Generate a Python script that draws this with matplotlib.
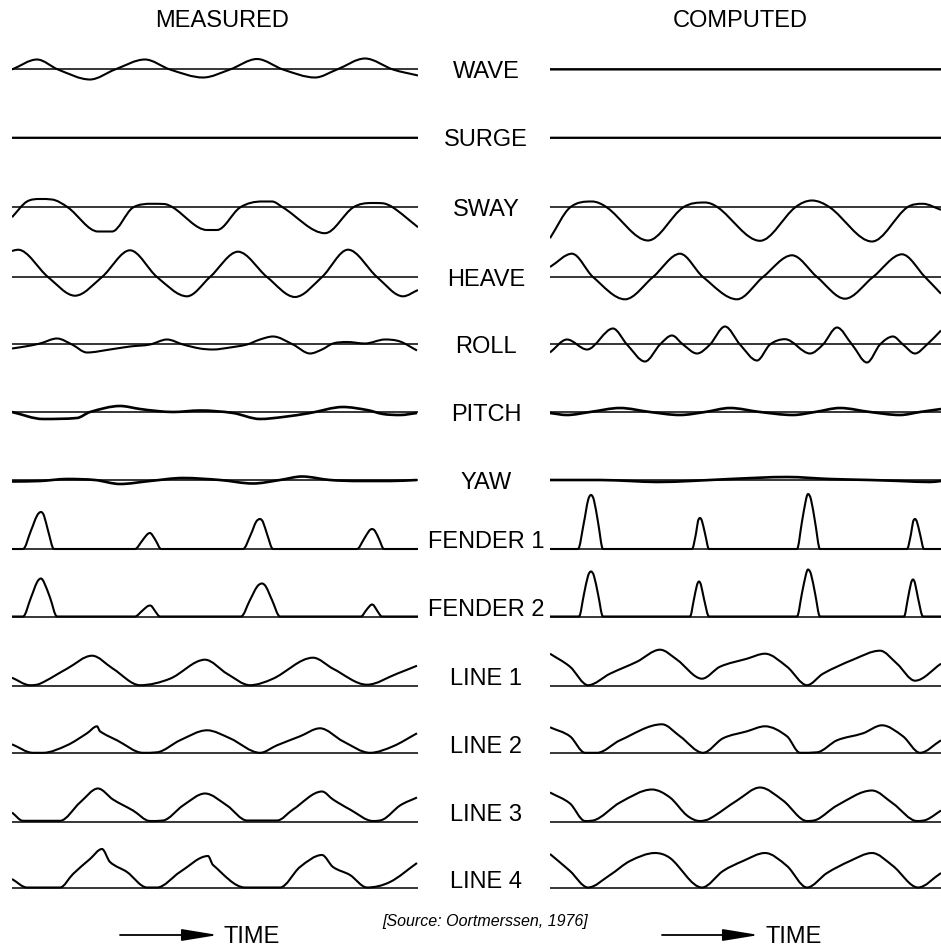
import matplotlib
matplotlib.use("Agg")
import matplotlib.pyplot as plt
from matplotlib.path import Path
from matplotlib.patches import PathPatch, FancyArrowPatch
import numpy as np

plt.rcParams['font.family'] = ['Liberation Sans', 'DejaVu Sans']

# ---- traces: time (record units) and response above the zero line ----
# measured record spans t = 0..406, computed record spans t = 0..391

wave_meas_t = [0, 25, 46, 78, 103, 133, 158, 191, 218, 245, 271, 303, 325, 353, 381, 406]
wave_meas_v = [0, 10, 0, -10, 0, 10, 0, -8, 0, 10.5, 0, -8, 0, 11, 0, -6]
wave_comp_t = [0, 391]
wave_comp_v = [0, 0]

surge_meas_t = [0, 406]
surge_meas_v = [0, 0]
surge_comp_t = [0, 391]
surge_comp_v = [0, 0]

sway_meas_t = [0, 15, 28, 40, 56, 86, 100, 121, 140, 152, 161, 195, 205, 228, 250, 260,
               271, 313, 341, 360, 370, 381, 406]
sway_meas_v = [-9.7, 6, 8.5, 8, 0, -24, -24, 0, 3.7, 3.5, 0, -22.5, -22.5, 0, 6, 6,
               0, -25.7, 0, 4.5, 4.3, 0, -19.7]
sway_comp_t = [0, 20, 42, 57, 98, 133, 155, 168, 210, 245, 262, 280, 322, 357, 373, 391]
sway_comp_v = [-30.7, 0, 6, 0, -33, 0, 5, 0, -33.3, 0, 7, 0, -34, 0, 3.7, -2.3]

heave_meas_t = [0, 6, 36, 63, 90, 118, 145, 175, 198, 226, 255, 283, 310, 336, 365, 391, 406]
heave_meas_v = [26, 27.3, 0, -18.7, 0, 26.7, 0, -19.3, 0, 25.3, 0, -20, 0, 27.3, 0, -19.3, -13]
heave_comp_t = [0, 22, 43, 75, 103, 130, 153, 187, 213, 242, 267, 295, 323, 352, 375, 391]
heave_comp_v = [10, 23.3, 0, -22.3, 0, 23.3, 0, -22.3, 0, 21.7, 0, -21.7, 0, 22.7, 0, -16.7]

roll_meas_t = [0, 13, 28, 45, 60, 75, 98, 118, 138, 155, 171, 188, 201, 218, 235, 248,
               261, 281, 298, 310, 321, 335, 353, 373, 388, 405]
roll_meas_v = [-4, -2, 1, 6, 0, -8, -5, -2, 0, 5, 0, -4, -5, -3, 0, 5,
               8, 0, -9, -5, 1, 2.5, 1, 5, 3, -6]
roll_comp_t = [0, 17, 37, 63, 77, 95, 110, 122, 133, 147, 160, 175, 190, 207, 220, 235,
               260, 273, 287, 302, 317, 330, 343, 353, 365, 377, 391]
roll_comp_v = [-8, 5, -5, 16, 0, -17, 0, 9, 0, -9, 0, 18, 0, -16, 0, 5.3,
               -9, 0, 17, 0, -18, 0, 8, 0, -9, 0, 14]

pitch_meas_t = [0, 31, 65, 78, 108, 128, 145, 161, 188, 221, 248, 271, 298, 331, 355, 371, 388, 405]
pitch_meas_v = [0, -7, -6, 0, 6, 3, 1, 0, 1.5, -1, -7, -5, -1, 5, 2, -2, -3, -1]
pitch_comp_t = [0, 17, 40, 70, 100, 130, 155, 180, 210, 243, 265, 290, 320, 350, 370, 391]
pitch_comp_v = [-1, -3, 0, 4, 0, -3, 0, 4, 0, -3, 0, 4, 0, -3, 0, 3]

yaw_meas_t = [0, 28, 55, 83, 108, 138, 171, 208, 241, 268, 290, 318, 348, 378, 405]
yaw_meas_v = [-1.5, -1, 1, 0, -4, -1, 2, 0, -3.5, 0, 3.5, 0, -1, -1, 0]
yaw_comp_t = [0, 50, 80, 107, 140, 180, 237, 280, 320, 350, 380, 391]
yaw_comp_v = [0, 0, -1, -2, -1, 1, 3, 1, 0, -1, -2, -1]

fender1_meas_t = [0, 11, 19, 25, 29, 32, 36, 42, 123, 130, 135, 138, 140, 144, 149,
                  231, 239, 244, 248, 251, 255, 261, 345, 352, 357, 360, 363, 367, 372, 406]
fender1_meas_v = [0, 0, 18.5, 33.3, 37, 33.3, 18.5, 0, 0, 8, 14.4, 16, 14.4, 8, 0,
                  0, 15, 27, 30, 27, 15, 0, 0, 10, 18, 20, 18, 10, 0, 0]
fender1_comp_t = [0, 28, 34, 38, 41, 44, 48, 53, 142, 146, 148, 150, 152, 155, 159,
                  247, 252, 256, 258, 261, 265, 270, 357, 361, 363, 365, 367, 370, 374, 391]
fender1_comp_v = [0, 0, 27, 48.6, 54, 48.6, 27, 0, 0, 15.5, 27.9, 31, 27.9, 15.5, 0,
                  0, 27.5, 49.5, 55, 49.5, 27.5, 0, 0, 15, 27, 30, 27, 15, 0, 0]

fender2_meas_t = [0, 11, 19, 25, 29, 32, 38, 45, 123, 130, 135, 138, 140, 143, 148,
                  229, 238, 245, 250, 254, 260, 268, 349, 354, 358, 360, 362, 365, 370, 406]
fender2_meas_v = [0, 0, 19, 34.2, 38, 34.2, 19, 0, 0, 5.5, 9.9, 11, 9.9, 5.5, 0,
                  0, 16.5, 29.7, 33, 29.7, 16.5, 0, 0, 6, 10.8, 12, 10.8, 6, 0, 0]
fender2_comp_t = [0, 29, 34, 38, 41, 44, 48, 53, 140, 144, 147, 149, 151, 154, 159,
                  247, 252, 256, 258, 261, 265, 270, 354, 358, 361, 363, 365, 368, 373, 391]
fender2_comp_v = [0, 0, 22.5, 40.5, 45, 40.5, 22.5, 0, 0, 17.5, 31.5, 35, 31.5, 17.5, 0,
                  0, 23.5, 42.3, 47, 42.3, 23.5, 0, 0, 18.5, 33.3, 37, 33.3, 18.5, 0, 0]

line1_meas_t = [0, 18, 28, 55, 80, 101, 128, 158, 193, 215, 238, 261, 301, 321, 355, 385, 405]
line1_meas_v = [8, 0.5, 2, 17, 30, 17, 0.5, 7, 26, 12, 0.5, 7, 28, 17, 1, 12, 20]
line1_comp_t = [0, 20, 38, 60, 87, 110, 127, 152, 170, 197, 215, 237, 257, 273, 303, 330, 347, 365, 391]
line1_comp_v = [32, 19, 0.5, 12, 24, 36, 26, 7, 19, 27, 32, 19, 0.5, 12, 26, 35, 22, 5, 22]

line2_meas_t = [0, 21, 31, 55, 75, 85, 88, 105, 131, 145, 168, 195, 218, 248, 265, 288,
                308, 331, 358, 381, 405]
line2_meas_v = [9, 0.5, 0.5, 8, 20, 27, 22, 13, 0.5, 1, 13, 23, 15, 0.5, 8, 17,
                25, 12, 0.5, 7, 20]
line2_comp_t = [0, 20, 35, 47, 70, 112, 130, 153, 173, 197, 215, 237, 250, 267, 287, 313,
                332, 353, 370, 391]
line2_comp_v = [26, 17, 0.5, 0.5, 13, 29, 17, 0.5, 15, 22, 27, 17, 0.5, 1, 13, 20,
                28, 17, 0.5, 13]

line3_meas_t = [0, 11, 48, 68, 86, 101, 121, 138, 151, 171, 193, 215, 235, 265, 281, 310,
                321, 338, 361, 371, 388, 405]
line3_meas_v = [9, 0.7, 0.7, 19, 33, 22, 11, 0.5, 1, 16, 28, 16, 1, 1, 12, 30,
                22, 12, 0.5, 2, 16, 24]
line3_comp_t = [0, 20, 35, 43, 70, 102, 120, 137, 150, 160, 187, 210, 233, 257, 267, 287,
                322, 343, 367, 377, 391]
line3_comp_v = [29, 18, 0.5, 1, 19, 32, 24, 6, 0.5, 3, 21, 34, 21, 0.5, 2, 16,
                31, 18, 0.5, 2, 11]

line4_meas_t = [0, 15, 48, 61, 78, 90, 98, 115, 135, 145, 168, 196, 201, 233, 268, 288,
                310, 321, 338, 355, 378, 405]
line4_meas_v = [9, 0.5, 0.5, 14, 29, 39, 26, 16, 0.5, 0.5, 16, 32, 23, 0.5, 0.5, 21,
                33, 21, 13, 0.5, 6, 25]
line4_comp_t = [0, 20, 38, 60, 80, 105, 120, 152, 173, 193, 215, 237, 257, 277, 300, 322,
                343, 368, 391]
line4_comp_v = [34, 17, 0.5, 13, 27, 35, 30, 0.5, 17, 27, 35, 22, 0.5, 15, 27, 35,
                22, 0.5, 15]

row_names = ['WAVE', 'SURGE', 'SWAY', 'HEAVE', 'ROLL', 'PITCH', 'YAW',
             'FENDER 1', 'FENDER 2', 'LINE 1', 'LINE 2', 'LINE 3', 'LINE 4']

measured = [(wave_meas_t, wave_meas_v), (surge_meas_t, surge_meas_v),
            (sway_meas_t, sway_meas_v), (heave_meas_t, heave_meas_v),
            (roll_meas_t, roll_meas_v), (pitch_meas_t, pitch_meas_v),
            (yaw_meas_t, yaw_meas_v), (fender1_meas_t, fender1_meas_v),
            (fender2_meas_t, fender2_meas_v), (line1_meas_t, line1_meas_v),
            (line2_meas_t, line2_meas_v), (line3_meas_t, line3_meas_v),
            (line4_meas_t, line4_meas_v)]
computed = [(wave_comp_t, wave_comp_v), (surge_comp_t, surge_comp_v),
            (sway_comp_t, sway_comp_v), (heave_comp_t, heave_comp_v),
            (roll_comp_t, roll_comp_v), (pitch_comp_t, pitch_comp_v),
            (yaw_comp_t, yaw_comp_v), (fender1_comp_t, fender1_comp_v),
            (fender2_comp_t, fender2_comp_v), (line1_comp_t, line1_comp_v),
            (line2_comp_t, line2_comp_v), (line3_comp_t, line3_comp_v),
            (line4_comp_t, line4_comp_v)]

# ---- page layout (pixels of the 941 x 947 sheet) ----
W, H = 941, 947
row_y = [69.5, 137.7, 207.5, 277, 344.5, 412, 480, 549, 616.5, 685.7, 753.3, 821.5, 888]
left_x0, left_w = 12, 406
right_x0, right_w = 550, 391
band = 60          # half height of each strip, in response units (1 unit = 1 px)
label_x = 486


def smooth_path(t, v):
    """Cubic through the samples (finite-difference slopes, flat at turning
    points, Fritsch-Carlson limited), returned as a Bezier path."""
    t = np.asarray(t, float)
    v = np.asarray(v, float)
    d = np.diff(v) / np.diff(t)
    m = np.zeros_like(v)
    m[0], m[-1] = d[0], d[-1]
    for i in range(1, len(v) - 1):
        if d[i - 1] * d[i] > 0:
            s = (v[i + 1] - v[i - 1]) / (t[i + 1] - t[i - 1])
            lim = 3 * min(abs(d[i - 1]), abs(d[i]))
            m[i] = np.sign(s) * min(abs(s), lim)
    verts = [(t[0], v[0])]
    codes = [Path.MOVETO]
    for i in range(len(v) - 1):
        h = t[i + 1] - t[i]
        verts += [(t[i] + h / 3, v[i] + m[i] * h / 3),
                  (t[i + 1] - h / 3, v[i + 1] - m[i + 1] * h / 3),
                  (t[i + 1], v[i + 1])]
        codes += [Path.CURVE4] * 3
    return Path(verts, codes)


fig = plt.figure(figsize=(W / 100, H / 100), dpi=100)
fig.patch.set_facecolor('white')


def strip(x0, w, y, t, v, lw):
    ax = fig.add_axes([x0 / W, 1 - (y + band) / H, w / W, 2 * band / H])
    ax.set_xlim(0, w)
    ax.set_ylim(-band, band)
    ax.axis('off')
    ax.patch.set_alpha(0)
    ax.plot([0, w], [0, 0], color='black', lw=1.1, solid_capstyle='butt')
    ax.add_patch(PathPatch(smooth_path(t, v), fill=False, ec='black', lw=lw,
                           joinstyle='round', capstyle='butt'))
    return ax


for i, name in enumerate(row_names):
    lw = 1.9 if name in ('YAW', 'PITCH') else 1.5
    strip(left_x0, left_w, row_y[i], *measured[i], lw)
    strip(right_x0, right_w, row_y[i], *computed[i], lw)
    if i < 7:
        # label centred on the zero line
        fig.text(label_x / W, 1 - (row_y[i] + 8.5) / H, name, ha='center',
                 va='baseline', fontsize=17)
    else:
        # label sitting on the zero line
        fig.text(label_x / W, 1 - (row_y[i] - 0.5) / H, name, ha='center',
                 va='baseline', fontsize=17)

fig.text(222 / W, 1 - 27 / H, 'MEASURED', ha='center', va='baseline', fontsize=17)
fig.text(740 / W, 1 - 27 / H, 'COMPUTED', ha='center', va='baseline', fontsize=17)

fig.text(485 / W, 1 - 921 / H, '[Source: Oortmerssen, 1976]', ha='center',
         va='center', fontsize=11.5, style='italic')

# time arrows under each column
for xa, xb, xt in [(120, 218, 223), (662, 759, 765)]:
    arrow = FancyArrowPatch((xa / W, 1 - 935 / H), (xb / W, 1 - 935 / H),
                            transform=fig.transFigure,
                            arrowstyle='-|>,head_length=1.1,head_width=0.18',
                            mutation_scale=20, color='black', lw=1.3,
                            shrinkA=0, shrinkB=0)
    fig.add_artist(arrow)
    fig.text(xt / W, 1 - 943 / H, 'TIME', ha='left', va='baseline', fontsize=17)

fig.savefig('out.png', dpi=100, facecolor='white')
